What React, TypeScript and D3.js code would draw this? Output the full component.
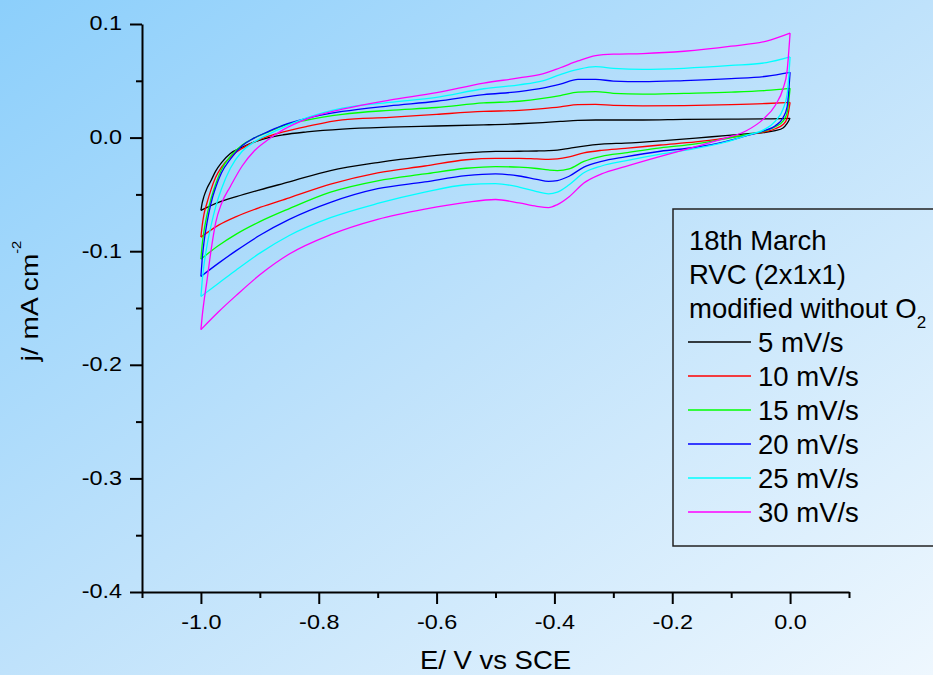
import React, { useEffect, useRef } from 'react';
import * as d3 from 'd3';

const WIDTH = 933;
const HEIGHT = 675;

// Scan rates and Origin-style default series colours
const scanRates = ['5 mV/s', '10 mV/s', '15 mV/s', '20 mV/s', '25 mV/s', '30 mV/s'];
const seriesColors = ['#000000', '#ff0000', '#00ff00', '#0000ff', '#00ffff', '#ff00ff'];

// Cathodic sweep: potential from 0.0 V down to -1.0 V (E / V vs SCE)
const cathodicE = [0.0, -0.005, -0.012, -0.025, -0.045, -0.075, -0.11, -0.16, -0.22, -0.28, -0.32, -0.35, -0.375,
  -0.395, -0.41, -0.43, -0.46, -0.5, -0.55, -0.62, -0.7, -0.78, -0.85, -0.9, -0.94, -0.97, -1.0];
const cathodic5 = [0.017, 0.0125, 0.0085, 0.0062, 0.0045, 0.0033, 0.0018, -0.0005, -0.0028, -0.0048, -0.0058, -0.0075,
  -0.0095, -0.011, -0.0115, -0.0118, -0.012, -0.0122, -0.0135, -0.0168, -0.022, -0.029, -0.039, -0.046, -0.052, -0.057, -0.064];
const cathodic10 = [0.031, 0.017, 0.0115, 0.0078, 0.0048, 0.0022, -0.0005, -0.0038, -0.0065, -0.0095, -0.0112, -0.0135,
  -0.017, -0.0188, -0.0192, -0.0188, -0.0182, -0.0182, -0.0195, -0.025, -0.031, -0.041, -0.053, -0.0615, -0.0695, -0.077, -0.0876];
const cathodic15 = [0.0434, 0.022, 0.0145, 0.0095, 0.0055, 0.0025, -0.001, -0.0055, -0.009, -0.0135, -0.0165, -0.021,
  -0.0275, -0.029, -0.0285, -0.0272, -0.026, -0.0255, -0.027, -0.032, -0.038, -0.048, -0.0625, -0.074, -0.085, -0.095, -0.107];
const cathodic20 = [0.0575, 0.027, 0.0175, 0.0105, 0.0058, 0.0015, -0.0035, -0.0085, -0.012, -0.017, -0.021, -0.026,
  -0.034, -0.0378, -0.0385, -0.0368, -0.0338, -0.032, -0.0335, -0.039, -0.045, -0.057, -0.072, -0.086, -0.0995, -0.1105, -0.1222];
const cathodic25 = [0.071, 0.038, 0.025, 0.0145, 0.0068, 0.0018, -0.004, -0.0095, -0.0145, -0.0205, -0.025, -0.031,
  -0.0415, -0.048, -0.0495, -0.0475, -0.0435, -0.0405, -0.0415, -0.048, -0.058, -0.0705, -0.0862, -0.1017, -0.1165, -0.1282, -0.1398];
const cathodic30 = [0.092, 0.059, 0.043, 0.0285, 0.0165, 0.0058, -0.0005, -0.008, -0.0165, -0.0255, -0.032, -0.04,
  -0.052, -0.059, -0.0616, -0.0605, -0.0575, -0.0545, -0.057, -0.063, -0.072, -0.0855, -0.1025, -0.1208, -0.1389, -0.1533, -0.169];

// Anodic sweep: potential from -1.0 V back up to 0.0 V
const anodicE = [-1.0, -0.998, -0.995, -0.99, -0.983, -0.975, -0.965, -0.95, -0.93, -0.91, -0.885, -0.86, -0.82, -0.76,
  -0.68, -0.6, -0.52, -0.46, -0.42, -0.39, -0.36, -0.33, -0.3, -0.25, -0.18, -0.1, -0.04, 0.0];
const anodic5 = [-0.064, -0.058, -0.052, -0.045, -0.038, -0.0295, -0.022, -0.014, -0.0085, -0.004, 0.0, 0.0025, 0.005,
  0.0075, 0.0092, 0.0102, 0.0112, 0.0122, 0.0132, 0.0142, 0.0152, 0.0155, 0.0155, 0.0155, 0.016, 0.0163, 0.0165, 0.017];
const anodic10 = [-0.0876, -0.078, -0.068, -0.058, -0.046, -0.035, -0.026, -0.017, -0.0095, -0.004, 0.0012, 0.005, 0.0098,
  0.0156, 0.0178, 0.0205, 0.023, 0.024, 0.0255, 0.027, 0.029, 0.0292, 0.0284, 0.028, 0.0282, 0.029, 0.030, 0.031];
const anodic15 = [-0.107, -0.095, -0.083, -0.069, -0.054, -0.041, -0.028, -0.0165, -0.0065, -0.0005, 0.005, 0.0105, 0.0155,
  0.0205, 0.024, 0.0265, 0.0305, 0.032, 0.0345, 0.037, 0.040, 0.0405, 0.039, 0.0383, 0.039, 0.040, 0.0415, 0.0434];
const anodic20 = [-0.1222, -0.108, -0.093, -0.076, -0.058, -0.044, -0.031, -0.019, -0.0072, -0.0005, 0.0055, 0.011, 0.017,
  0.023, 0.028, 0.032, 0.0378, 0.0405, 0.0435, 0.047, 0.0512, 0.0512, 0.0498, 0.0492, 0.0502, 0.052, 0.054, 0.0575];
const anodic25 = [-0.1398, -0.127, -0.113, -0.096, -0.078, -0.061, -0.045, -0.027, -0.012, -0.004, 0.003, 0.009, 0.0175,
  0.026, 0.031, 0.0355, 0.043, 0.0465, 0.050, 0.0555, 0.060, 0.0624, 0.061, 0.060, 0.061, 0.0635, 0.066, 0.071];
const anodic30 = [-0.169, -0.158, -0.145, -0.127, -0.1, -0.075, -0.058, -0.043, -0.025, -0.012, -0.0015, 0.007, 0.0165,
  0.025, 0.033, 0.0395, 0.048, 0.0525, 0.056, 0.0615, 0.0675, 0.0722, 0.0735, 0.074, 0.076, 0.0805, 0.085, 0.092];

const cathodicSeries = [cathodic5, cathodic10, cathodic15, cathodic20, cathodic25, cathodic30];
const anodicSeries = [anodic5, anodic10, anodic15, anodic20, anodic25, anodic30];

// Axis ticks
const xMajorTicks = [-1.0, -0.8, -0.6, -0.4, -0.2, 0.0];
const xMinorTicks = [-1.1, -0.9, -0.7, -0.5, -0.3, -0.1, 0.1];
const yMajorTicks = [0.1, 0.0, -0.1, -0.2, -0.3, -0.4];
const yMinorTicks = [0.05, -0.05, -0.15, -0.25, -0.35];

const legendTitle = ['18th March', 'RVC (2x1x1)', 'modified without O'];

const FONT = "'Liberation Sans', Arial, sans-serif";
const TICK_STRETCH = 1.2;

export default function App() {
  const ref = useRef<SVGSVGElement | null>(null);

  useEffect(() => {
    document.body.style.margin = '0';
    const svg = d3.select(ref.current);
    svg.selectAll('*').remove();

    const x = d3.scaleLinear().domain([-1.1, 0.1]).range([142, 849]);
    const y = d3.scaleLinear().domain([-0.4, 0.1]).range([592, 24]);

    // Background gradient
    const defs = svg.append('defs');
    const grad = defs.append('linearGradient').attr('id', 'bg').attr('x1', 0).attr('y1', 0).attr('x2', 1).attr('y2', 1);
    grad.append('stop').attr('offset', '0%').attr('stop-color', '#8ccffb');
    grad.append('stop').attr('offset', '50%').attr('stop-color', '#bfe2fb');
    grad.append('stop').attr('offset', '100%').attr('stop-color', '#eef7fe');
    svg.append('rect').attr('width', WIDTH).attr('height', HEIGHT).attr('fill', 'url(#bg)');

    // Cyclic voltammograms: each scan drawn as its cathodic and anodic sweeps
    const line = d3.line<[number, number]>()
      .x(d => x(d[0]))
      .y(d => y(d[1]))
      .curve(d3.curveMonotoneX);
    const curves = svg.append('g').attr('fill', 'none').attr('stroke-width', 1.3).attr('stroke-linejoin', 'round');
    scanRates.forEach((_, i) => {
      const cath = cathodicE.map((e, k) => [e, cathodicSeries[i][k]] as [number, number]).reverse();
      const anod = anodicE.map((e, k) => [e, anodicSeries[i][k]] as [number, number]);
      curves.append('path').attr('d', line(cath)).attr('stroke', seriesColors[i]);
      curves.append('path').attr('d', line(anod)).attr('stroke', seriesColors[i]);
    });

    const fmt = (v: number) => (Math.abs(v) < 1e-9 ? 0 : v).toFixed(1);

    // Bottom axis
    const gx = svg.append('g').attr('transform', `translate(0,${y(-0.4)})`);
    gx.call(d3.axisBottom(x).tickValues(xMajorTicks).tickSize(12).tickSizeOuter(0).tickFormat(fmt as any));
    gx.call(g => g.append('g').call(d3.axisBottom(x).tickValues(xMinorTicks).tickSize(6).tickSizeOuter(0).tickFormat(() => ''))
      .call(m => m.select('.domain').remove()));
    gx.selectAll('.domain').attr('stroke-width', 2);
    gx.selectAll('line').attr('stroke-width', 2).attr('stroke', '#000');
    gx.selectAll('.tick text').attr('font-size', 19.5).attr('fill', '#000')
      .attr('y', 37).attr('dy', null).attr('transform', `scale(${TICK_STRETCH},1)`);

    // Left axis
    const gy = svg.append('g').attr('transform', `translate(${x(-1.1)},0)`);
    gy.call(d3.axisLeft(y).tickValues(yMajorTicks).tickSize(12).tickSizeOuter(0).tickFormat(fmt as any));
    gy.call(g => g.append('g').call(d3.axisLeft(y).tickValues(yMinorTicks).tickSize(6).tickSizeOuter(0).tickFormat(() => ''))
      .call(m => m.select('.domain').remove()));
    gy.selectAll('.domain').attr('stroke-width', 2);
    gy.selectAll('line').attr('stroke-width', 2).attr('stroke', '#000');
    gy.selectAll('.tick text').attr('font-size', 19.5).attr('fill', '#000').attr('dy', '0.3em')
      .attr('x', -20 / TICK_STRETCH).attr('transform', `scale(${TICK_STRETCH},1)`);
    svg.selectAll('g[font-family]').attr('font-family', FONT);

    // Axis titles
    svg.append('text')
      .attr('transform', `translate(${(x(-1.1) + x(0.1)) / 2},669) scale(1.1,1)`)
      .attr('text-anchor', 'middle').attr('font-family', FONT).attr('font-size', 25)
      .text('E/ V vs SCE');
    const yt = svg.append('text')
      .attr('transform', 'translate(38,301) rotate(-90) scale(1.22,1)')
      .attr('text-anchor', 'middle').attr('font-family', FONT).attr('font-size', 23);
    yt.append('tspan').text('j/ mA cm');
    yt.append('tspan').attr('dy', -17).attr('font-size', 12).text('-2');

    // Legend
    const lg = svg.append('g');
    lg.append('rect').attr('x', 673).attr('y', 209).attr('width', 300).attr('height', 337)
      .attr('fill', 'none').attr('stroke', '#222').attr('stroke-width', 1.5);
    const rowY = (k: number) => 250 + 34 * k;
    legendTitle.forEach((t, k) => {
      const tx = lg.append('text').attr('x', 689).attr('y', rowY(k))
        .attr('font-family', FONT).attr('font-size', 27.5).text(t);
      if (k === 2) tx.append('tspan').attr('dy', 10).attr('font-size', 17).text('2');
    });
    scanRates.forEach((label, i) => {
      const by = rowY(i + 3);
      lg.append('line').attr('x1', 688).attr('x2', 751).attr('y1', by - 10).attr('y2', by - 10)
        .attr('stroke', seriesColors[i]).attr('stroke-width', 1.3);
      lg.append('text').attr('x', 758).attr('y', by)
        .attr('font-family', FONT).attr('font-size', 27.5).text(label);
    });
  }, []);

  return <svg ref={ref} width={WIDTH} height={HEIGHT} style={{ display: 'block' }} />;
}
